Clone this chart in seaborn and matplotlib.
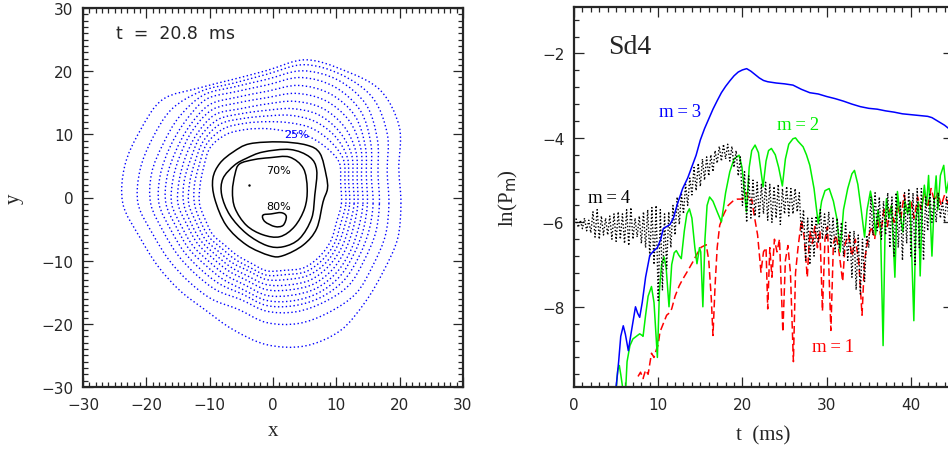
import numpy as np
import pandas as pd
import seaborn as sns
import matplotlib.pyplot as plt
from matplotlib.path import Path
from matplotlib.patches import PathPatch
from matplotlib.ticker import MultipleLocator

sns.set_style("ticks")
plt.rcParams['font.family'] = ['DejaVu Sans']
plt.rcParams['axes.unicode_minus'] = True

SERIF = 'Liberation Serif'
GREEN = '#00f000'

# ---------------- left panel: density contours at t = 20.8 ms ----------------
# radii (from centre) of the dotted contours, every 15 degrees, outermost first
ANGLES_DEG = list(range(0, 360, 15))
CENTER = (-1.0, -1.0)
r05 = [21.2, 21.6, 24.2, 25.4, 24.4, 23.6, 21.1, 20.4, 21.2, 23.3, 23.1, 23.2, 22.7, 20.7, 19.8, 19.4, 19.4, 20.6, 22.3, 23.3, 23.2, 22.0, 21.3, 21.4]
r07 = [19.3, 19.7, 22.0, 23.7, 23.6, 22.8, 20.5, 19.8, 20.6, 21.2, 20.8, 20.7, 20.3, 18.6, 17.8, 17.4, 17.4, 17.3, 18.8, 19.6, 19.8, 20.0, 19.4, 19.4]
r09 = [17.8, 18.2, 20.2, 22.2, 22.6, 21.8, 19.7, 19.2, 19.9, 19.5, 18.9, 18.8, 18.3, 16.9, 16.2, 15.8, 15.8, 15.7, 17.0, 17.7, 18.0, 18.3, 17.8, 17.8]
r11 = [16.8, 17.1, 19.0, 20.9, 21.4, 20.7, 18.8, 18.4, 19.1, 18.3, 17.7, 17.4, 17.0, 15.7, 15.1, 14.7, 14.7, 14.8, 16.1, 16.7, 17.1, 17.2, 16.8, 16.7]
r13 = [15.9, 16.3, 18.0, 19.7, 20.1, 19.4, 17.8, 17.5, 18.1, 17.3, 16.6, 16.3, 15.9, 14.7, 14.2, 13.7, 13.8, 14.1, 15.3, 15.9, 16.3, 16.3, 15.9, 15.8]
r15 = [15.2, 15.5, 17.2, 18.5, 18.8, 18.1, 16.8, 16.6, 17.2, 16.5, 15.7, 15.3, 15.0, 13.9, 13.4, 12.9, 13.0, 13.3, 14.5, 15.0, 15.5, 15.5, 15.2, 15.0]
r17 = [14.4, 14.8, 16.3, 17.3, 17.5, 16.8, 15.8, 15.6, 16.3, 15.6, 14.8, 14.3, 14.0, 13.0, 12.6, 12.1, 12.2, 12.5, 13.6, 14.1, 14.7, 14.7, 14.4, 14.2]
r19 = [13.8, 14.1, 15.5, 16.2, 16.3, 15.6, 14.8, 14.8, 15.4, 14.9, 13.9, 13.5, 13.1, 12.3, 11.9, 11.4, 11.5, 11.8, 12.8, 13.3, 13.9, 13.9, 13.7, 13.5]
r21 = [13.1, 13.4, 14.7, 15.2, 15.1, 14.5, 13.9, 14.0, 14.6, 14.1, 13.1, 12.6, 12.3, 11.5, 11.2, 10.7, 10.8, 11.0, 12.0, 12.4, 13.1, 13.2, 13.0, 12.8]
r23 = [12.5, 12.8, 14.0, 14.1, 13.9, 13.3, 13.0, 13.2, 13.7, 13.4, 12.3, 11.8, 11.4, 10.8, 10.5, 10.0, 10.1, 10.4, 11.3, 11.6, 12.4, 12.5, 12.4, 12.1]
r25 = [11.8, 12.1, 13.2, 12.9, 12.5, 11.9, 11.9, 12.2, 12.7, 12.6, 11.5, 10.9, 10.6, 10.0, 9.8, 9.3, 9.4, 9.7, 10.6, 10.9, 11.7, 11.8, 11.7, 11.4]
BLUE_CONTOURS = [r05, r07, r09, r11, r13, r15, r17, r19, r21, r23, r25]

# solid contours (x, y vertices)
c50_x = [-3.7, 1.1, 5.3, 7.4, 8.4, 8.6, 7.9, 6.9, 4.8, 1.6, -0.5, -4.2, -7.4, -9.2, -9.5, -8.4, -6.3]
c50_y = [8.5, 8.8, 8.3, 7.0, 3.5, 1.4, -0.7, -4.9, -7.5, -9.2, -9.2, -7.5, -4.4, -0.2, 3.0, 5.4, 7.2]
c60_x = [-1.6, 2.7, 5.8, 6.9, 6.6, 6.1, 4.2, 1.6, -1.0, -4.2, -6.8, -8.1, -7.9, -6.1, -4.2]
c60_y = [7.2, 7.6, 6.4, 4.3, 0.4, -3.3, -6.5, -7.8, -7.6, -5.7, -2.8, 0.4, 3.0, 5.1, 6.2]
c70_x = [-0.5, 2.6, 4.8, 5.4, 5.0, 3.4, 1.1, -1.6, -4.2, -6.0, -6.4, -6.0, -5.3, -3.0]
c70_y = [6.3, 6.4, 4.6, 1.4, -1.7, -4.6, -6.2, -5.9, -4.4, -1.7, 1.0, 3.7, 5.3, 6.0]
c80_x = [-1.6, -1.3, 0.3, 1.6, 2.1, 1.3, -0.3]
c80_y = [-2.8, -3.8, -4.6, -4.4, -3.0, -2.4, -2.6]

# ---------------- right panel: ln(P_m) versus t ----------------
t_m3 = [5.0, 5.3, 5.55, 5.85, 6.1, 6.45, 6.8, 7.3, 7.55, 7.8, 8.1, 8.5, 9.0, 9.5, 9.9, 10.3, 10.6,
        11.0, 11.4, 11.8, 12.3, 12.9, 13.5, 14.0, 14.5, 15.0, 15.5, 16.0, 16.5, 17.0, 17.5, 18.0,
        18.5, 19.0, 19.5, 20.0, 20.5, 21.0, 21.5, 22.0, 22.5, 23.0, 24.0, 25.0, 26.0, 26.5, 27.0,
        28.0, 29.0, 30.0, 31.0, 32.0, 33.0, 34.0, 35.0, 36.0, 37.0, 38.0, 39.0, 40.0, 41.0, 42.0,
        42.5, 43.0, 43.5, 44.0, 44.5, 45.0]
lnP_m3 = [-9.9, -9.3, -8.7, -8.45, -8.65, -9.04, -8.6, -8.0, -8.15, -8.25, -7.9, -7.3, -6.78, -6.67, -6.6,
          -6.4, -6.15, -6.1, -6.05, -5.9, -5.55, -5.2, -4.95, -4.68, -4.41, -4.05, -3.78, -3.55, -3.32,
          -3.12, -2.93, -2.78, -2.65, -2.53, -2.44, -2.39, -2.36, -2.42, -2.5, -2.58, -2.64, -2.67,
          -2.7, -2.72, -2.75, -2.8, -2.85, -2.93, -2.96, -3.02, -3.07, -3.13, -3.2, -3.26, -3.3, -3.32,
          -3.36, -3.39, -3.43, -3.45, -3.47, -3.49, -3.52, -3.58, -3.64, -3.7, -3.78, -3.85]

t_m2 = [5.0, 5.2, 5.38, 5.55, 5.8, 6.05, 6.3, 6.64, 7.0, 7.4, 7.8, 8.1, 8.2, 8.5, 8.8, 9.2, 9.5, 9.9,
        10.15, 10.4, 10.7, 10.95, 11.28, 11.6, 11.9, 12.15, 12.45, 12.74, 13.1, 13.4, 13.7, 14.0,
        14.35, 14.6, 14.9, 15.05, 15.3, 15.55, 15.8, 16.1, 16.5, 17.0, 17.5, 18.0, 18.5, 19.0, 19.6,
        19.95, 20.47, 20.8, 21.1, 21.5, 21.9, 22.45, 22.8, 23.1, 23.44, 23.9, 24.3, 24.74, 25.1, 25.5,
        26.0, 26.3, 26.6, 27.2, 27.6, 28.0, 28.5, 29.0, 29.4, 29.8, 30.3, 30.8, 31.2, 31.6, 32.0,
        32.5, 33.0, 33.3, 33.7, 34.1, 34.5, 34.8, 35.2, 35.5, 35.8, 36.1, 36.4, 36.7, 36.95, 37.1,
        37.4, 37.7, 38.1, 38.4, 38.7, 39.05, 39.3, 39.6, 39.9, 40.35, 40.6, 40.9, 41.1, 41.35, 41.6,
        41.85, 42.1, 42.5, 42.8, 43.0, 43.2, 43.5, 43.9, 44.2, 44.5, 45.0]
lnP_m2 = [-9.95, -9.5, -9.39, -9.6, -9.95, -10.3, -9.3, -8.92, -8.76, -8.7, -8.64, -8.68, -8.7, -8.2,
          -7.75, -7.52, -7.9, -9.2, -7.6, -7.0, -6.82, -7.1, -8.0, -7.0, -6.72, -6.67, -6.78, -6.86,
          -6.2, -5.8, -5.68, -5.9, -6.6, -6.98, -6.6, -6.7, -8.0, -6.4, -5.6, -5.4, -5.5, -5.75, -5.99,
          -5.3, -4.8, -4.5, -4.41, -4.7, -5.75, -4.7, -4.3, -4.17, -4.35, -5.16, -4.55, -4.3, -4.25,
          -4.4, -4.7, -5.14, -4.5, -4.15, -4.02, -4.0, -4.08, -4.21, -4.4, -4.65, -5.2, -6.03, -5.5,
          -5.25, -5.2, -5.5, -5.9, -6.7, -5.7, -5.2, -4.85, -4.77, -5.1, -5.7, -6.35, -5.7, -5.26,
          -5.6, -6.3, -5.7, -6.2, -8.92, -6.0, -5.44, -5.9, -5.6, -7.3, -5.27, -5.8, -6.23, -5.5, -5.8,
          -5.5, -8.33, -5.9, -5.52, -7.27, -5.6, -5.12, -5.6, -4.89, -6.8, -5.4, -4.9, -5.7, -4.89,
          -4.65, -5.3, -5.0, -5.2]

t_m1 = [7.6, 7.9, 8.2, 8.5, 8.8, 9.2, 9.5, 9.8, 10.0, 10.2, 10.5, 11.0, 11.3, 11.6, 12.0, 12.5, 12.9,
        13.5, 14.1, 14.6, 15.1, 15.7, 16.0, 16.3, 16.5, 16.75, 17.0, 17.3, 17.8, 18.3, 18.85, 19.4,
        20.0, 20.5, 20.8, 21.1, 21.4, 21.8, 22.2, 22.5, 22.8, 23.0, 23.25, 23.5, 23.8, 24.1, 24.4,
        24.8, 25.1, 25.4, 25.7, 26.05, 26.3, 26.6, 27.0, 27.3, 27.7, 28.0, 28.3, 28.6, 28.9, 29.2,
        29.5, 29.8, 30.1, 30.5, 30.8, 31.1, 31.4, 31.9, 32.2, 32.6, 33.0, 33.4, 33.8, 34.2, 34.5,
        34.9, 35.3, 35.7, 36.0, 36.4, 36.8, 37.2, 37.6, 38.0, 38.4, 38.8, 39.2, 39.6, 40.0, 40.4,
        40.8, 41.2, 41.6, 42.0, 42.4, 42.8, 43.2, 43.6, 44.0, 44.5, 45.0]
lnP_m1 = [-9.65, -9.55, -9.7, -9.5, -9.6, -9.1, -9.2, -9.0, -8.9, -8.6, -8.45, -8.2, -8.15, -8.05,
          -7.75, -7.5, -7.35, -7.15, -6.94, -6.75, -6.59, -6.53, -6.9, -7.8, -8.68, -7.5, -6.6, -6.07,
          -5.8, -5.6, -5.5, -5.45, -5.45, -5.3, -5.5, -5.45, -5.84, -6.3, -7.18, -6.7, -6.6, -8.05,
          -6.6, -7.3, -6.4, -6.7, -6.4, -8.6, -6.9, -6.55, -7.2, -9.3, -7.2, -6.6, -5.95, -6.3, -7.3,
          -6.2, -6.5, -6.1, -6.6, -6.2, -8.1, -6.4, -6.1, -8.56, -6.5, -6.3, -6.6, -7.4, -6.5, -6.3,
          -6.8, -6.4, -6.9, -8.2, -6.9, -6.4, -6.1, -6.4, -5.9, -6.3, -5.7, -6.1, -5.6, -6.0, -5.6,
          -5.9, -5.35, -5.8, -5.5, -5.9, -5.4, -5.7, -5.3, -5.6, -5.2, -5.5, -5.3, -5.6, -5.35, -5.6,
          -5.4]

# m=4 sampled every 0.25 ms from t = 0 to 45
t_m4 = np.arange(0, 45.01, 0.25)
lnP_m4 = [-6.0, -5.92, -6.12, -5.95, -6.15, -5.9, -6.2, -5.95, -6.25, -5.75, -6.35, -5.7,
          -6.4, -5.85, -6.3, -5.9, -6.3, -5.85, -6.4, -5.8, -6.45, -5.75, -6.4, -5.8,
          -6.5, -5.7, -6.55, -5.65, -6.4, -5.9, -6.35, -5.85, -6.5, -5.75, -6.6, -5.7,
          -6.8, -5.65, -7.0, -5.6, -7.85, -5.7, -7.6, -5.8, -7.1, -5.75, -6.6, -5.6,
          -6.3, -5.4, -6.05, -5.3, -5.8, -5.1, -5.6, -4.95, -5.35, -4.7, -5.25, -4.6,
          -5.15, -4.5, -5.0, -4.45, -4.9, -4.4, -4.8, -4.3, -4.6, -4.2, -4.55, -4.15,
          -4.5, -4.15, -4.55, -4.2, -4.7, -4.3, -4.9, -4.45, -5.6, -4.8, -6.0, -4.9,
          -5.9, -5.0, -5.85, -5.05, -5.9, -5.1, -5.8, -5.05, -5.95, -5.1, -6.0, -5.15,
          -5.9, -5.1, -6.05, -5.2, -5.8, -5.15, -5.85, -5.2, -5.8, -5.2, -5.75, -5.3,
          -6.3, -5.7, -6.9, -5.9, -7.0, -5.9, -6.8, -5.85, -6.5, -5.7, -6.4, -5.8,
          -6.4, -5.75, -6.6, -5.9, -6.7, -5.9, -6.6, -6.0, -6.8, -6.0, -6.9, -6.2,
          -7.3, -6.2, -7.6, -6.3, -7.7, -6.4, -7.4, -6.3, -6.6, -5.4, -6.3, -5.3,
          -6.2, -5.4, -6.4, -5.5, -6.3, -5.3, -6.6, -5.4, -6.8, -5.3, -6.6, -5.5,
          -6.9, -5.3, -6.5, -5.2, -6.8, -5.3, -7.0, -5.2, -6.6, -5.2, -6.9, -5.4,
          -6.2, -5.3, -6.0, -5.4, -6.0, -5.3, -5.9, -5.5, -6.0, -5.4, -5.9, -5.6,
          -5.7]


def smooth_loop(xs, ys):
    # closed curve through the given vertices, drawn as cubic Bezier pieces
    p = np.column_stack([xs, ys])
    n = len(p)
    verts, codes = [p[0]], [Path.MOVETO]
    for i in range(n):
        p0, p1, p2, p3 = p[(i - 1) % n], p[i], p[(i + 1) % n], p[(i + 2) % n]
        verts += [p1 + (p2 - p0) / 6, p2 - (p3 - p1) / 6, p2]
        codes += [Path.CURVE4] * 3
    return Path(verts, codes)


fig = plt.figure(figsize=(9.48, 4.52), dpi=100)
ax1 = fig.add_axes([83 / 948, 64 / 452, 380 / 948, 379 / 452])
ax2 = fig.add_axes([574 / 948, 64 / 452, 379 / 948, 380 / 452])

# left panel
th = np.deg2rad(ANGLES_DEG)
for radii in BLUE_CONTOURS:
    rr = np.array(radii)
    path = smooth_loop(CENTER[0] + rr * np.cos(th), CENTER[1] + rr * np.sin(th))
    ax1.add_patch(PathPatch(path, fill=False, ec='blue', lw=1.0, ls=(0, (1, 1.8))))
for cx, cy in [(c50_x, c50_y), (c60_x, c60_y), (c70_x, c70_y), (c80_x, c80_y)]:
    ax1.add_patch(PathPatch(smooth_loop(cx, cy), fill=False, ec='black', lw=1.1))
ax1.plot([-3.8], [1.9], marker='.', ms=1.5, color='black')
ax1.text(3.7, 10.1, '25%', color='blue', fontsize=8, ha='center', va='center')
ax1.text(0.9, 4.4, '70%', color='black', fontsize=8, ha='center', va='center')
ax1.text(0.9, -1.4, '80%', color='black', fontsize=8, ha='center', va='center')
ax1.text(-24.8, 25.2, 't  =  20.8  ms', fontsize=12.5, ha='left', va='baseline')

ax1.set_xlim(-30, 30)
ax1.set_ylim(-30, 30)
ax1.xaxis.set_major_locator(MultipleLocator(10))
ax1.yaxis.set_major_locator(MultipleLocator(10))
ax1.xaxis.set_minor_locator(MultipleLocator(1))
ax1.yaxis.set_minor_locator(MultipleLocator(1))
ax1.set_xlabel('x', family=SERIF, fontsize=15, va='center')
ax1.set_ylabel('y', family=SERIF, fontsize=15, va='center')
ax1.xaxis.set_label_coords(0.5, -0.116)
ax1.yaxis.set_label_coords(-0.182, 0.5)

# right panel
sns.lineplot(x=t_m1, y=lnP_m1, ax=ax2, color='red', lw=1.1, ls=(0, (5, 2.5)), sort=False, estimator=None)
sns.lineplot(x=t_m2, y=lnP_m2, ax=ax2, color=GREEN, lw=1.1, sort=False, estimator=None)
sns.lineplot(x=t_m4, y=lnP_m4, ax=ax2, color='black', lw=1.0, ls=(0, (1, 1.5)), sort=False, estimator=None)
sns.lineplot(x=t_m3, y=lnP_m3, ax=ax2, color='blue', lw=1.1, sort=False, estimator=None)

lab = dict(family=SERIF, fontsize=13.5, ha='left', va='baseline')
ax2.text(4.0, -2.0, 'Sd4', family=SERIF, fontsize=20, ha='left', va='baseline')
ax2.text(10.06, -3.49, 'm\u2009=\u20093', color='blue', **lab)
ax2.text(24.1, -3.80, 'm\u2009=\u20092', color=GREEN, **lab)
ax2.text(1.66, -5.51, 'm\u2009=\u20094', color='black', **lab)
ax2.text(28.2, -9.05, 'm\u2009=\u20091', color='red', **lab)

ax2.set_xlim(0, 45)
ax2.set_ylim(-9.9, -0.9)
ax2.xaxis.set_major_locator(MultipleLocator(10))
ax2.xaxis.set_minor_locator(MultipleLocator(1))
ax2.yaxis.set_major_locator(MultipleLocator(2))
ax2.yaxis.set_minor_locator(MultipleLocator(0.4))
ax2.set_xlabel('t  (ms)', family=SERIF, fontsize=15, va='center')
ax2.set_ylabel(r'ln(P$_{\rm m}$)', family=SERIF, fontsize=15, va='center')
ax2.xaxis.set_label_coords(0.5, -0.126)
ax2.yaxis.set_label_coords(-0.174, 0.5)

for ax in (ax1, ax2):
    ax.tick_params(which='both', direction='in', top=True, right=True, width=0.9,
                   labelsize=11, pad=7)
    ax.tick_params(which='major', length=7)
    ax.tick_params(which='minor', length=3.5)
    for sp in ax.spines.values():
        sp.set_linewidth(1.6)

fig.savefig('out.png', dpi=100)
